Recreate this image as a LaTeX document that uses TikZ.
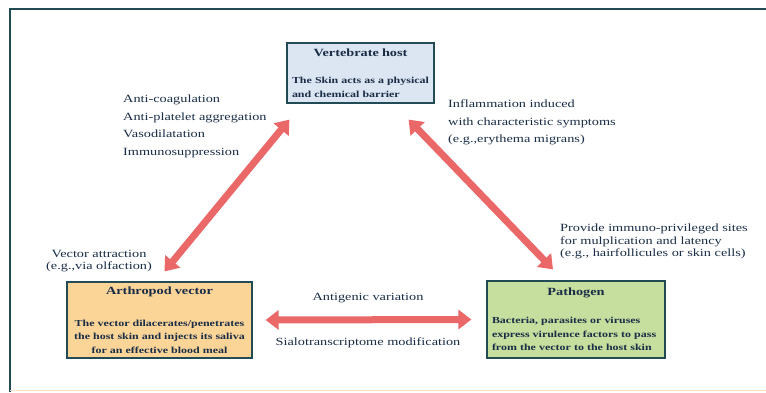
\documentclass[tikz,border=0pt]{standalone}
\usepackage{fontspec}
\setmainfont{Liberation Serif}[FakeStretch=1.3]
\usepackage{xcolor}
\usepackage{tikz}
\usetikzlibrary{arrows.meta, positioning, calc}
\definecolor{framegray}{RGB}{35, 75, 85}
\definecolor{labelblue}{RGB}{25, 45, 70}
\definecolor{arrowred}{RGB}{234, 104, 104}
\definecolor{hostfill}{RGB}{220, 230, 242}
\definecolor{vectorfill}{RGB}{251, 212, 152}
\definecolor{pathfill}{RGB}{198, 222, 158}

\begin{document}
\begin{tikzpicture}[x=1pt, y=-1pt,
  box/.style={draw=framegray, line width=1.2pt, inner xsep=5pt, inner ysep=2pt, align=left, text=labelblue,
    font=\fontsize{9.2}{13.5}\selectfont\bfseries},
  boxtitle/.style={font=\fontsize{11}{13}\selectfont\bfseries},
  note/.style={text=labelblue, inner sep=0pt, align=left, font=\fontsize{11}{17.5}\selectfont},
  notetight/.style={note, font=\fontsize{11}{12.5}\selectfont},
  bigarrow/.style={arrowred, line width=7pt, {Triangle[length=13pt,width=19pt]}-{Triangle[length=13pt,width=19pt]}}]
  \useasboundingbox (0,0) rectangle (766,392);

  % frame
  \draw[framegray, line width=1.2pt] (10,392) -- (10,9) -- (766,9);
  \draw[orange!25, line width=1pt] (10,390) -- (766,390);

  % the three partners
  \node[box, fill=hostfill, text width=137pt, minimum height=60pt] (host) at (360.5,73)
    {{\centering\fontsize{11}{13}\selectfont Vertebrate host\par}\vspace{13.5pt}The Skin acts as a physical\\and chemical barrier};
  \node[box, fill=vectorfill, text width=175pt, minimum height=76pt] (vector) at (159.5,320)
    {{\centering\fontsize{11}{13}\selectfont Arthropod vector\par}\vspace{18.5pt}{\centering The vector dilacerates/penetrates\\the host skin and injects its saliva\\for an effective blood meal\par}};
  \node[box, fill=pathfill, text width=168pt, minimum height=77pt] (pathogen) at (576,319.5)
    {{\centering\fontsize{11}{13}\selectfont Pathogen\par}\vspace{14.5pt}Bacteria, parasites or viruses\\express virulence factors to pass\\from the vector to the host skin};

  % interactions
  \draw[bigarrow] ([shift={(5,-10)}]vector.north) -- ([shift={(3,16)}]host.south west);
  \draw[bigarrow] ([shift={(-26,16)}]host.south east) -- ([shift={(-23,-11)}]pathogen.north);
  \draw[bigarrow] ([xshift=13pt]vector.east) -- ([xshift=-15pt]pathogen.west);

  \node[note, anchor=west] (saliva) at (123,126.5) {Anti-coagulation\\Anti-platelet aggregation\\Vasodilatation\\Immunosuppression};
  \node[note, anchor=west] (inflam) at (448,122.5) {Inflammation induced\\with characteristic symptoms\\(e.g.,erythema migrans)};
  \node[notetight, align=center] (attract) at (99,261) {Vector attraction\\(e.g.,via olfaction)};
  \node[notetight, anchor=west] (sites) at (560,241.5) {Provide immuno-privileged sites\\for mulplication and latency\\(e.g., hairfollicules or skin cells)};
  \node[note] (antigen) at (368,298) {Antigenic variation};
  \node[note] (sialo) at (368,343) {Sialotranscriptome modification};
\end{tikzpicture}
\end{document}
